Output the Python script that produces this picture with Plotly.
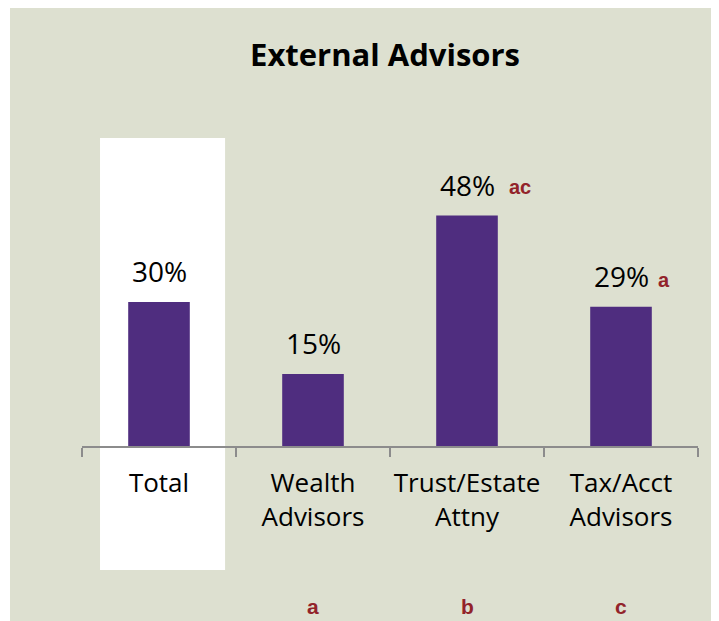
import plotly.graph_objects as go

categories = ["Total", "Wealth<br>Advisors", "Trust/Estate<br>Attny", "Tax/Acct<br>Advisors"]
values = [30, 15, 48, 29]
value_labels = ["30%", "15%", "48%", "29%"]
sig_marks = ["", "", "ac", "a"]
group_letters = ["", "a", "b", "c"]

BG = "#DDE0D0"
BAR = "#4F2D7F"
RED = "#92232A"
FONT = "Open Sans"

# page body has an 8px margin, so figure is 8px smaller than the window
W, H = 711, 613
L, R, T, B = 74, 21, 130, 175
pw, ph = W - L - R, H - T - B
px_per_unit = 4.8
ymax = ph / px_per_unit
axis_y = H - B  # pixel row of the axis in figure coords

fig = go.Figure()
fig.add_trace(go.Bar(x=categories, y=values, marker=dict(color=BAR, line=dict(width=0)),
                     width=0.4, hoverinfo="skip"))

shapes = [
    dict(type="rect", xref="paper", yref="paper", layer="below",
         x0=(2 - L) / pw, x1=(W - L) / pw + 0.05, y0=-(B + 5) / ph, y1=axis_y / ph,
         fillcolor=BG, line=dict(width=0)),
    dict(type="rect", xref="x", yref="paper", layer="below",
         x0=-0.383, x1=0.429, y0=-(562 - axis_y) / ph, y1=1.0,
         fillcolor="white", line=dict(width=0)),
]

annotations = []
for cat, v, lab, sig, g in zip(categories, values, value_labels, sig_marks, group_letters):
    annotations.append(dict(x=cat, y=v, xref="x", yref="y", text=lab, showarrow=False,
                            yanchor="bottom", yshift=10, font=dict(family=FONT, size=28, color="black")))
    if sig:
        annotations.append(dict(x=cat, y=v, xref="x", yref="y", text=f"<b>{sig}</b>", showarrow=False,
                                xanchor="left", yanchor="bottom", yshift=16 if len(sig) > 1 else 14,
                                xshift=40 if len(sig) > 1 else 35,
                                font=dict(family="Liberation Sans", size=20, color=RED)))
    if g:
        annotations.append(dict(x=cat, y=0, xref="x", yref="y", text=f"<b>{g}</b>", showarrow=False,
                                yanchor="middle", yshift=-(606 - 446),
                                font=dict(family="Liberation Sans", size=21, color=RED)))

fig.update_layout(
    width=W, height=H,
    margin=dict(l=L, r=R, t=T, b=B, pad=0, autoexpand=False),
    paper_bgcolor="white",
    plot_bgcolor="rgba(0,0,0,0)",
    showlegend=False,
    title=dict(text="<b>External Advisors</b>", x=377 / W, xanchor="center",
               y=1 - 47 / H, yanchor="middle",
               font=dict(family=FONT, size=31, color="black")),
    xaxis=dict(type="category", range=[-0.5, 3.5], tickangle=0, automargin=False,
               showline=True, linecolor="#8C8C8C", linewidth=2,
               ticks="outside", tickson="boundaries", ticklen=9, tickcolor="#8C8C8C", tickwidth=2,
               showgrid=False, zeroline=False, ticklabelstandoff=13,
               tickfont=dict(family=FONT, size=26, color="black")),
    yaxis=dict(range=[0, ymax], visible=False, showgrid=False, zeroline=False),
    shapes=shapes,
    annotations=annotations,
    bargap=0.6,
)

fig.write_html("out.html")
